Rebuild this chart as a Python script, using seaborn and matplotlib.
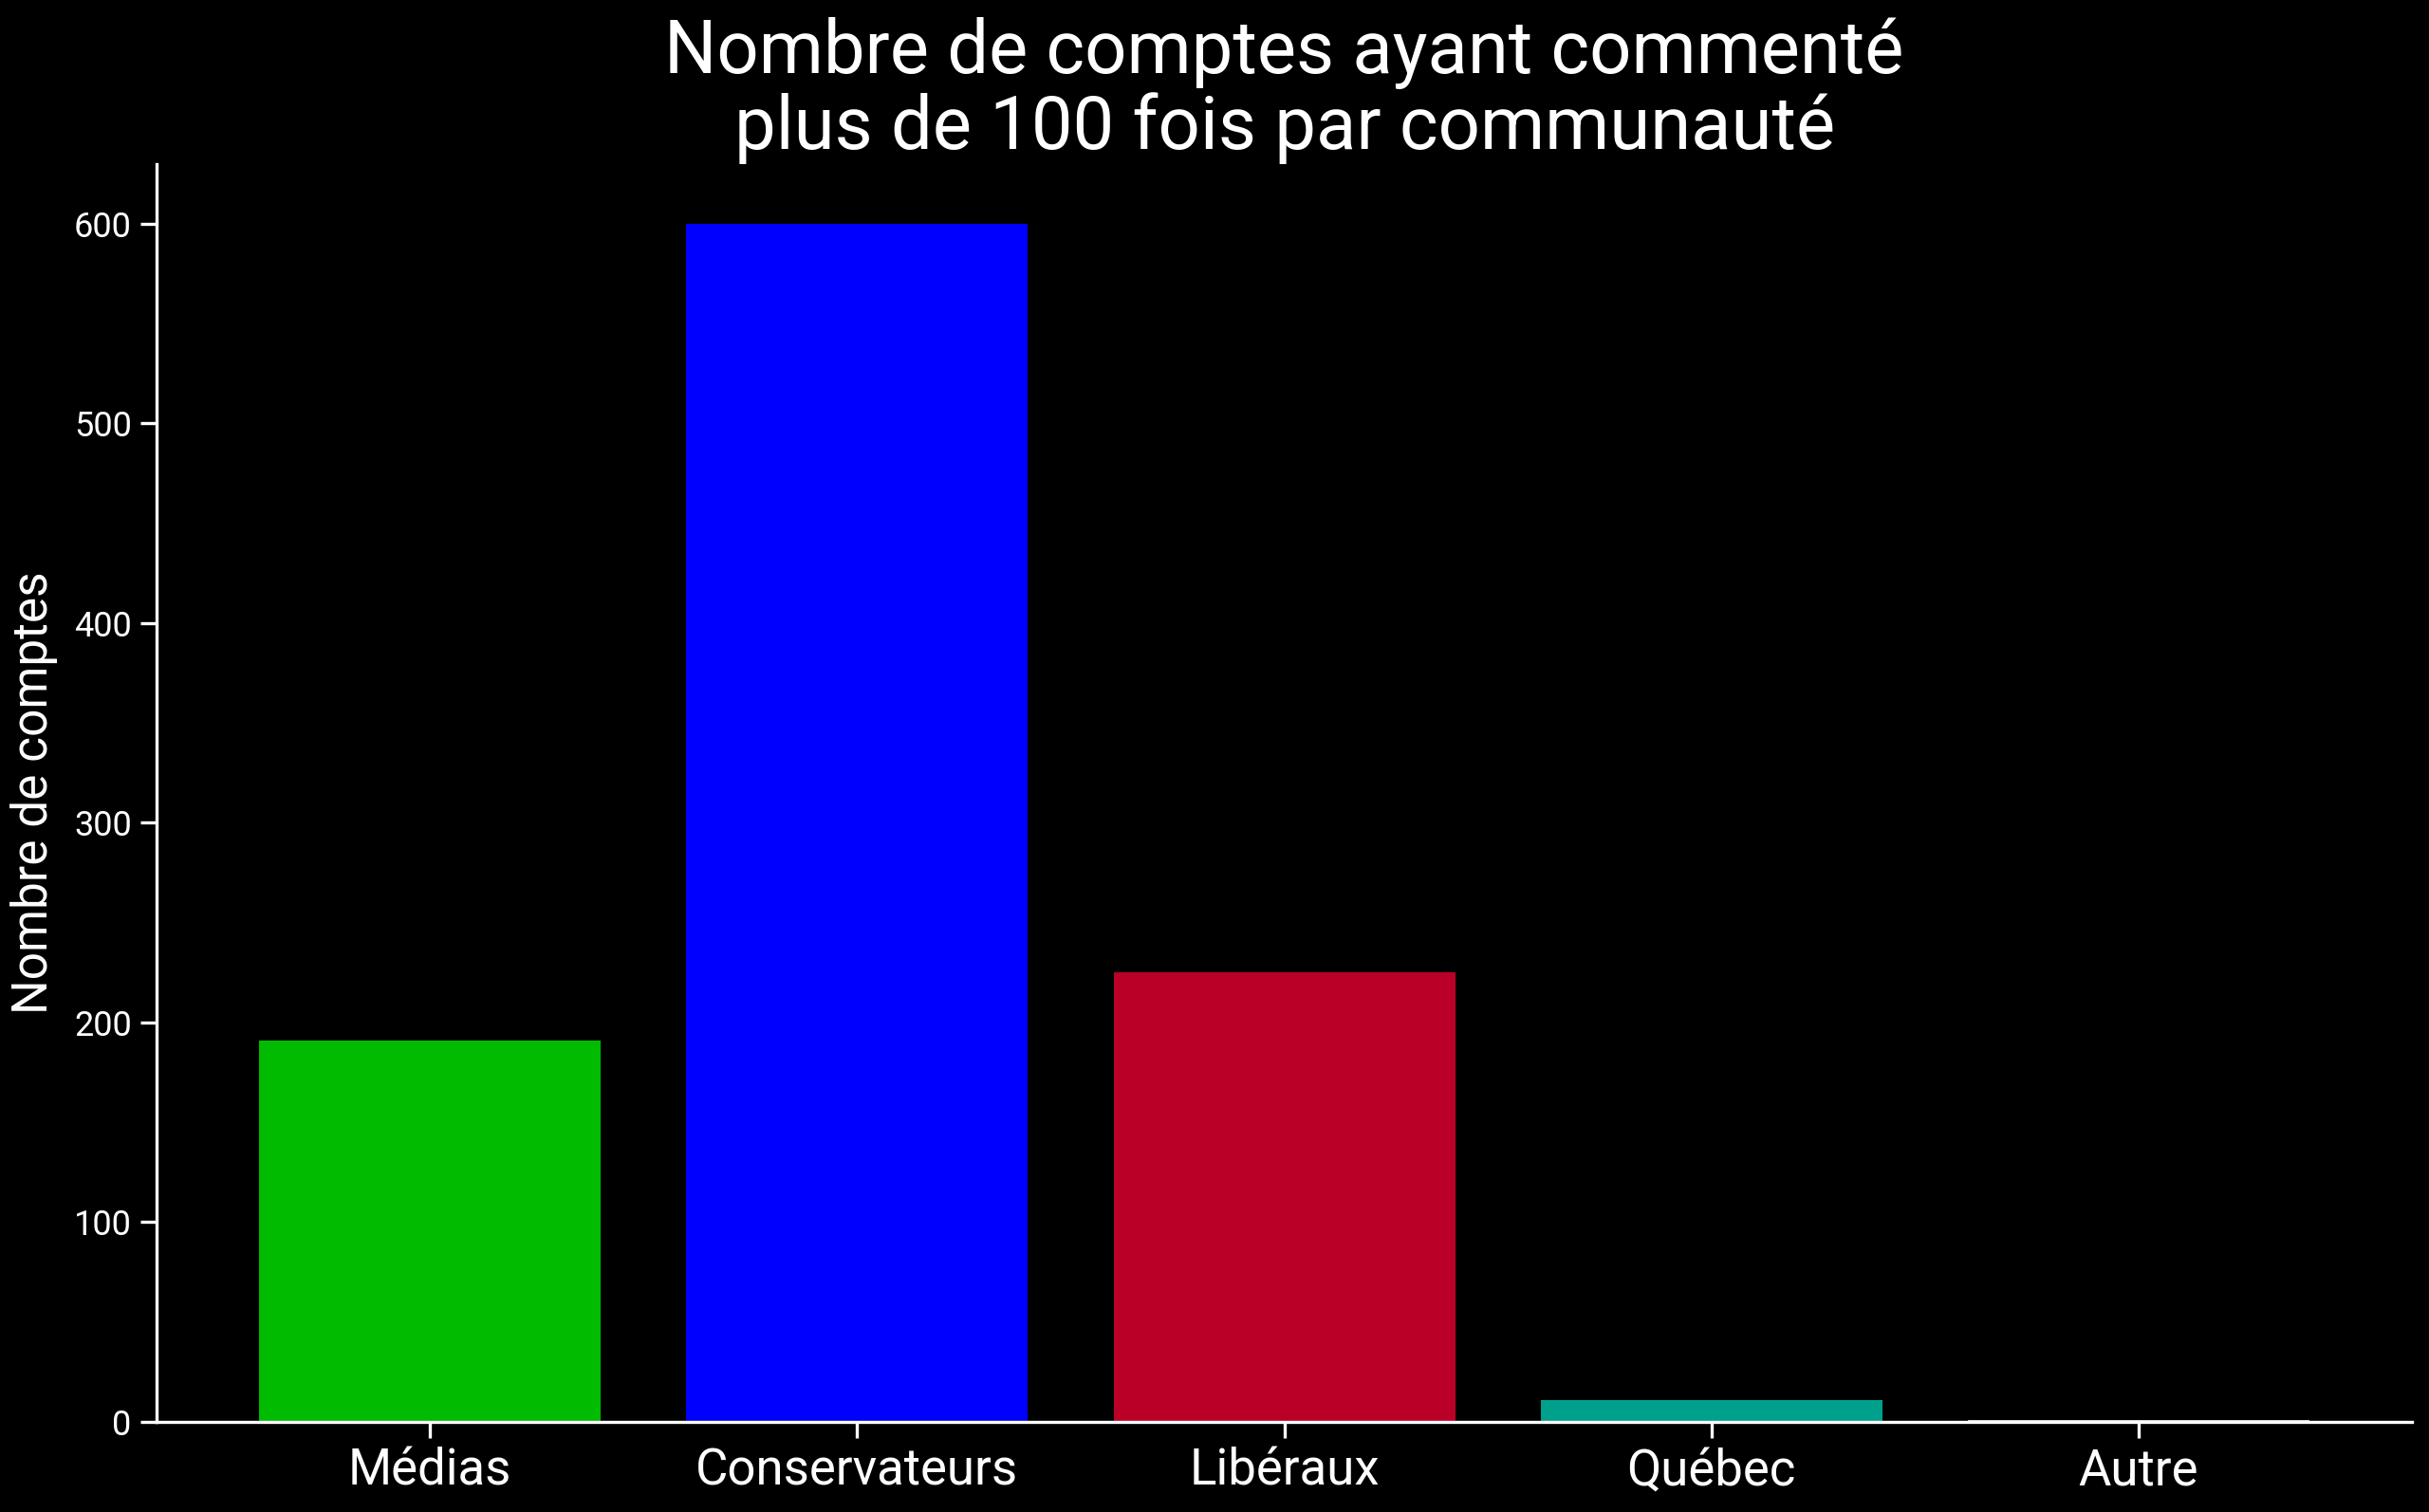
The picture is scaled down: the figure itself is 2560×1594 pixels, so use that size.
import numpy as np
import pandas as pd
import matplotlib
matplotlib.use("Agg")
import matplotlib.pyplot as plt
import seaborn as sns

# data
communautes = ["Médias", "Conservateurs", "Libéraux", "Québec", "Autre"]
nb_comptes = [191, 600, 225, 11, 1]
couleurs = ["#00BB00", "#0000FF", "#BA0027", "#00A08C", "#CCCCCC"]

sns.set_style("ticks")
plt.rcParams["font.family"] = ["Roboto", "DejaVu Sans"]
plt.rcParams.update({
    "figure.facecolor": "black",
    "axes.facecolor": "black",
    "axes.edgecolor": "white",
    "axes.labelcolor": "white",
    "xtick.color": "white",
    "ytick.color": "white",
    "text.color": "white",
})

df = pd.DataFrame({"communaute": communautes, "comptes": nb_comptes})

fig = plt.figure(figsize=(12.8, 7.97), dpi=200)
ax = fig.add_axes([0.0645, 0.0596, 0.9285, 0.832])

sns.barplot(data=df, x="communaute", y="comptes", hue="communaute",
            palette=couleurs, legend=False, width=0.8, saturation=1,
            linewidth=0, edgecolor="none", ax=ax)

ax.set_xlim(-0.64, 4.64)
ax.set_ylim(0, 630)
ax.set_yticks([0, 100, 200, 300, 400, 500, 600])
ax.set_xlabel("")
ax.set_ylabel("Nombre de comptes", fontsize=18.5, labelpad=6)
ax.tick_params(axis="x", labelsize=19, length=6, width=1.2)
ax.tick_params(axis="y", labelsize=13, length=6, width=1.2)
for s in ["left", "bottom"]:
    ax.spines[s].set_linewidth(1.2)
sns.despine(ax=ax)

ax.set_title("Nombre de comptes ayant commenté\nplus de 100 fois par communauté",
             fontsize=28, linespacing=1.05, pad=2)

fig.savefig("out.png", dpi=200, facecolor="black")
